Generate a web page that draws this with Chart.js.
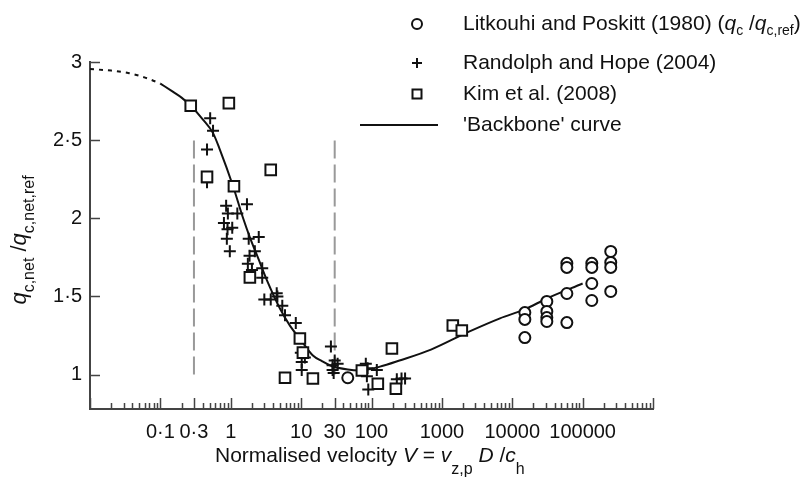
<!DOCTYPE html>
<html>
<head>
<meta charset="utf-8">
<script src="https://cdn.jsdelivr.net/npm/chart.js@4.4.1/dist/chart.umd.min.js"></script>
<style>
  html, body { margin: 0; padding: 0; background: #fff; }
  #wrap { width: 810px; height: 481px; }
</style>
</head>
<body>
<div id="wrap"><canvas id="rateChart" width="810" height="481"></canvas></div>
<script>
// Litkouhi and Poskitt (1980), q_c / q_c,ref
const litkouhiV = [46, 15100, 15100, 15100, 31000, 31000, 31000, 31000, 59700, 59700, 59700, 59700,
  135000, 135000, 135000, 135000, 251000, 251000, 251000, 251000];
const litkouhiQ = [0.98, 1.397, 1.353, 1.237, 1.468, 1.404, 1.365, 1.34, 1.712, 1.686, 1.519, 1.333,
  1.712, 1.686, 1.583, 1.474, 1.788, 1.718, 1.686, 1.532];

// Randolph and Hope (2004)
const randolphV = [0.51, 0.56, 0.46, 0.46,
  0.86, 1.70, 0.91, 1.24, 0.80, 1.05, 0.90, 0.88, 0.97, 1.80, 2.5, 2.2, 1.85, 1.75, 2.8, 2.0, 2.8,
  4.5, 3.0, 3.7, 4.6, 5.4, 5.9, 8.4,
  9.9, 11.3, 10.2, 10.2,
  26.5, 30, 28, 33, 28, 29,
  83, 88, 119, 86, 90,
  229, 267, 300];
const randolphQ = [2.64, 2.56, 2.44, 2.23,
  2.08, 2.09, 2.03, 2.03, 1.97, 1.94, 1.93, 1.87, 1.79, 1.87, 1.88, 1.79, 1.76, 1.71, 1.68, 1.67, 1.62,
  1.52, 1.48, 1.48, 1.50, 1.44, 1.38, 1.33,
  1.14, 1.11, 1.08, 1.03,
  1.18, 1.09, 1.06, 1.07, 1.03, 1.01,
  1.07, 1.04, 1.03, 0.99, 0.905,
  0.97, 0.975, 0.975];

// Kim et al. (2008)
const kimV = [0.27, 0.94, 0.46, 1.11, 3.7, 1.87, 9.6, 10.6, 5.9, 14.7, 73, 123, 195, 222, 1430, 1920];
const kimQ = [2.72, 2.737, 2.265, 2.205, 2.31, 1.622, 1.231, 1.141, 0.98, 0.975, 1.026, 0.942, 1.167, 0.91, 1.314, 1.282];

// 'Backbone' curve, extrapolated (dotted) and fitted (solid) parts
const backboneExtV = [0.01, 0.02, 0.035, 0.05, 0.07, 0.1];
const backboneExtQ = [2.955, 2.945, 2.93, 2.912, 2.89, 2.862];
const backboneV = [0.1, 0.15, 0.2, 0.27, 0.4, 0.56, 0.7, 1.07, 1.5, 1.87, 2.5, 3.27, 5, 7, 9.6, 14.7, 20, 26, 46, 68,
  132, 250, 700, 2300, 6700, 15000, 31000, 100000];
const backboneQ = [2.862, 2.81, 2.772, 2.72, 2.633, 2.545, 2.44, 2.21, 2.0, 1.878, 1.735, 1.603, 1.423, 1.31, 1.23, 1.122,
  1.085, 1.058, 1.032, 1.026, 1.051, 1.09, 1.16, 1.27, 1.36, 1.417, 1.487, 1.583];

// vertical guides bounding the transition region
const guideV = [0.3, 30];
const guideQ = [1, 2.5];

// axis ticks
const xTickLabels = [0.1, 0.3, 1, 10, 30, 100, 1000, 10000, 100000];
const yTickValues = [1, 1.5, 2, 2.5, 3];

const FONT = '"Liberation Sans", Arial, Helvetica, sans-serif';
const INK = '#111';
const AXIS = '#444';

function toPoints(xs, ys) {
  return xs.map((x, i) => ({ x: x, y: ys[i] }));
}

function fmtTick(v) {
  return String(v).replace('.', '\u00b7');
}

function isLabelled(v) {
  return xTickLabels.some(t => Math.abs(t - v) / t < 1e-6);
}

// every decade 0.01 .. 1e6 with minor ticks at 2..9
function logTicks() {
  const out = [];
  for (let e = -2; e <= 6; e++) {
    for (let k = 1; k <= 9; k++) {
      if (e === 6 && k > 1) break;
      out.push({ value: Number((k * Math.pow(10, e)).toPrecision(6)) });
    }
  }
  return out;
}

// text runs with italic symbols and subscripts
function richWidth(ctx, parts, size, subSize) {
  let w = 0;
  parts.forEach(p => {
    ctx.font = (p.it ? 'italic ' : '') + (p.sub ? subSize : size) + 'px ' + FONT;
    w += ctx.measureText(p.t).width;
  });
  return w;
}

function drawRich(ctx, x, y, parts, size, subSize, subShift) {
  let cx = x;
  ctx.textBaseline = 'alphabetic';
  ctx.textAlign = 'left';
  parts.forEach(p => {
    ctx.font = (p.it ? 'italic ' : '') + (p.sub ? subSize : size) + 'px ' + FONT;
    ctx.fillText(p.t, cx, y + (p.sub ? subShift : 0));
    cx += ctx.measureText(p.t).width;
  });
}

const xTitle = [
  { t: 'Normalised velocity ' }, { t: 'V', it: true }, { t: ' = ' }, { t: 'v', it: true },
  { t: 'z,p', sub: true }, { t: ' ' }, { t: 'D', it: true }, { t: ' /' }, { t: 'c', it: true }, { t: 'h', sub: true }
];
const yTitle = [
  { t: 'q', it: true }, { t: 'c,net', sub: true }, { t: ' /' }, { t: 'q', it: true }, { t: 'c,net,ref', sub: true }
];
const legendRows = [
  { mark: 'circle', y: 30, parts: [{ t: 'Litkouhi and Poskitt (1980) (' }, { t: 'q', it: true }, { t: 'c', sub: true },
    { t: ' /' }, { t: 'q', it: true }, { t: 'c,ref', sub: true }, { t: ')' }] },
  { mark: 'cross', y: 69, parts: [{ t: 'Randolph and Hope (2004)' }] },
  { mark: 'rect', y: 100, parts: [{ t: 'Kim et al. (2008)' }] },
  { mark: 'line', y: 131, parts: [{ t: '\'Backbone\' curve' }] }
];

function drawMark(ctx, kind, x, y) {
  ctx.save();
  ctx.strokeStyle = INK;
  ctx.fillStyle = '#fff';
  ctx.lineWidth = 2;
  ctx.beginPath();
  if (kind === 'circle') {
    ctx.arc(x, y, 5, 0, Math.PI * 2);
    ctx.fill();
    ctx.stroke();
  } else if (kind === 'cross') {
    ctx.moveTo(x - 5, y); ctx.lineTo(x + 5, y);
    ctx.moveTo(x, y - 5); ctx.lineTo(x, y + 5);
    ctx.stroke();
  } else if (kind === 'rect') {
    ctx.rect(x - 4.5, y - 4.5, 9, 9);
    ctx.fill();
    ctx.stroke();
  } else {
    ctx.moveTo(360, y); ctx.lineTo(438, y);
    ctx.stroke();
  }
  ctx.restore();
}

// inward tick marks, axis titles and the key
const decorPlugin = {
  id: 'decor',
  afterDraw(chart) {
    const ctx = chart.ctx;
    const xs = chart.scales.x;
    const ys = chart.scales.y;
    const area = chart.chartArea;

    ctx.save();
    ctx.strokeStyle = AXIS;
    ctx.lineWidth = 1.5;
    ctx.beginPath();
    xs.ticks.forEach(t => {
      const px = Math.round(xs.getPixelForValue(t.value)) + 0.5;
      const mant = t.value / Math.pow(10, Math.floor(Math.log10(t.value) + 1e-9));
      const major = isLabelled(t.value) || Math.abs(mant - 1) < 1e-6;
      const len = major ? 11 : 6;
      ctx.moveTo(px, area.bottom);
      ctx.lineTo(px, area.bottom - len);
    });
    ys.ticks.forEach(t => {
      const py = Math.round(ys.getPixelForValue(t.value)) + 0.5;
      ctx.moveTo(area.left, py);
      ctx.lineTo(area.left + 10, py);
    });
    ctx.stroke();
    ctx.restore();

    ctx.save();
    ctx.fillStyle = INK;
    drawRich(ctx, 215, 462, xTitle, 21, 16, 12);

    ctx.translate(26, 240);
    ctx.rotate(-Math.PI / 2);
    const w = richWidth(ctx, yTitle, 22, 16);
    drawRich(ctx, -w / 2, 0, yTitle, 22, 16, 8);
    ctx.restore();

    ctx.save();
    ctx.fillStyle = INK;
    legendRows.forEach(r => {
      drawMark(ctx, r.mark, 417, r.y - 6);
      drawRich(ctx, 463, r.y, r.parts, 21, 14, 5);
    });
    ctx.restore();
  }
};

const ctx = document.getElementById('rateChart').getContext('2d');

new Chart(ctx, {
  type: 'scatter',
  data: {
    datasets: [
      {
        label: 'Kim et al. (2008)',
        data: toPoints(kimV, kimQ),
        pointStyle: 'rect',
        pointRadius: 7.5,
        pointBorderWidth: 2,
        pointBorderColor: INK,
        pointBackgroundColor: '#fff',
        order: 0
      },
      {
        label: 'Randolph and Hope (2004)',
        data: toPoints(randolphV, randolphQ),
        pointStyle: 'cross',
        pointRadius: 6,
        pointBorderWidth: 2,
        pointBorderColor: INK,
        order: 1
      },
      {
        label: 'Litkouhi and Poskitt (1980)',
        data: toPoints(litkouhiV, litkouhiQ),
        pointStyle: 'circle',
        pointRadius: 5.5,
        pointBorderWidth: 2,
        pointBorderColor: INK,
        pointBackgroundColor: '#fff',
        order: 2
      },
      {
        label: "'Backbone' curve",
        data: toPoints(backboneV, backboneQ),
        showLine: true,
        borderColor: INK,
        borderWidth: 2,
        pointRadius: 0,
        cubicInterpolationMode: 'monotone',
        order: 5
      },
      {
        label: 'extrapolated',
        data: toPoints(backboneExtV, backboneExtQ),
        showLine: true,
        borderColor: INK,
        borderWidth: 2,
        borderDash: [4, 5],
        pointRadius: 0,
        cubicInterpolationMode: 'monotone',
        order: 5
      },
      ...guideV.map(v => ({
        label: 'guide',
        data: guideQ.map(q => ({ x: v, y: q })),
        showLine: true,
        borderColor: '#999',
        borderWidth: 2,
        borderDash: [18, 6],
        pointRadius: 0,
        order: 6
      }))
    ]
  },
  options: {
    responsive: false,
    animation: false,
    events: [],
    layout: { padding: { top: 62, right: 157, bottom: 0, left: 0 } },
    plugins: {
      legend: { display: false },
      tooltip: { enabled: false }
    },
    scales: {
      x: {
        type: 'logarithmic',
        min: 0.01,
        max: 1000000,
        afterBuildTicks(scale) {
          scale.ticks = logTicks();
        },
        afterFit(scale) {
          scale.height = 72;
        },
        grid: { display: false, drawTicks: false },
        border: { display: true, color: AXIS, width: 2 },
        ticks: {
          autoSkip: false,
          maxRotation: 0,
          padding: 11,
          color: INK,
          font: { family: FONT, size: 20 },
          callback: v => (isLabelled(v) ? fmtTick(v) : '')
        }
      },
      y: {
        type: 'linear',
        min: 0.78,
        max: 3,
        afterBuildTicks(scale) {
          scale.ticks = yTickValues.map(v => ({ value: v }));
        },
        afterFit(scale) {
          scale.width = 90;
        },
        grid: { display: false, drawTicks: false },
        border: { display: true, color: AXIS, width: 2 },
        ticks: {
          padding: 8,
          color: INK,
          font: { family: FONT, size: 20 },
          callback: v => fmtTick(v)
        }
      }
    }
  },
  plugins: [decorPlugin]
});
</script>
</body>
</html>
